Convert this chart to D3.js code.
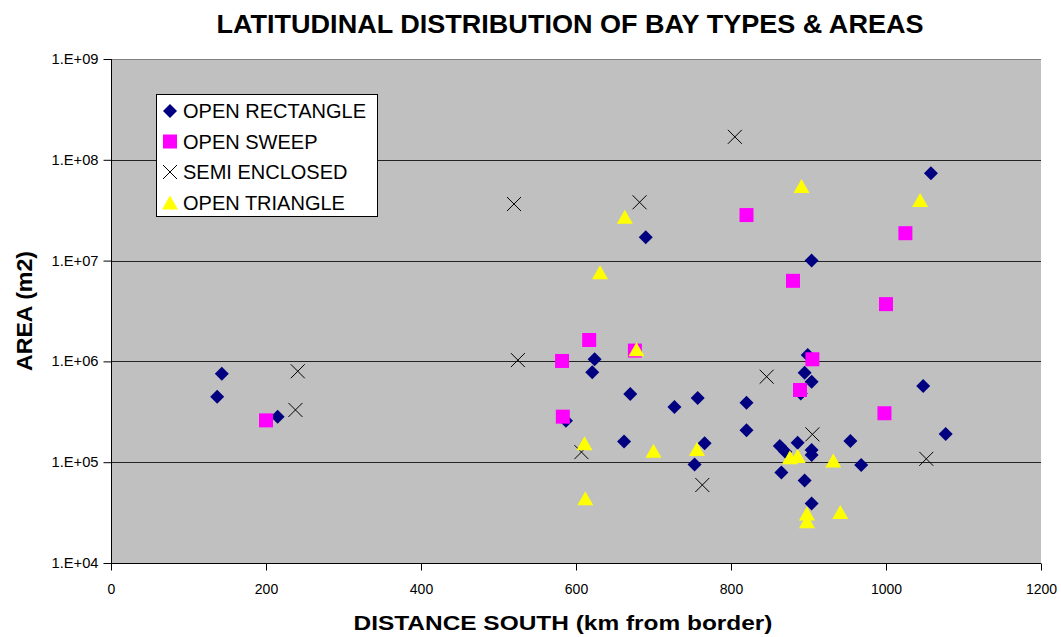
<!DOCTYPE html>
<html>
<head>
<meta charset="utf-8">
<script src="https://cdn.jsdelivr.net/npm/d3@7"></script>
<style>
  html, body { margin: 0; padding: 0; background: #fff; }
  svg { display: block; }
</style>
</head>
<body>
<svg id="chart" width="1061" height="637"></svg>
<script>
// ---- DATA ----
const seriesNames = ["OPEN RECTANGLE", "OPEN SWEEP", "SEMI ENCLOSED", "OPEN TRIANGLE"];

const rectDist = [137, 143, 215, 587, 621, 624, 662, 670, 690, 727, 753, 757, 766, 820, 820, 863, 865, 870, 886, 890, 895, 895, 899, 904, 904, 904, 904, 904, 954, 968, 1048, 1058, 1077];
const rectArea = [4.47e5, 7.55e5, 2.83e5, 2.58e5, 7.8e5, 1.05e6, 1.6e5, 4.75e5, 1.7e7, 3.53e5, 9.5e4, 4.33e5, 1.54e5, 3.89e5, 2.08e5, 1.45e5, 7.9e4, 1.27e5, 1.56e5, 4.8e5, 7.7e5, 6.6e4, 1.16e6, 6.3e5, 1.32e5, 1.18e5, 3.9e4, 1.0e7, 1.62e5, 9.4e4, 5.7e5, 7.35e7, 1.9e5];

const sweepDist = [200, 582, 583, 617, 676, 820, 880, 889, 905, 998, 1000, 1025];
const sweepArea = [2.6e5, 1.01e6, 2.83e5, 1.63e6, 1.28e6, 2.83e7, 6.3e6, 5.2e5, 1.05e6, 3.06e5, 3.7e6, 1.87e7];

const semiDist = [238, 241, 520, 525, 607, 682, 763, 805, 846, 905, 1052];
const semiArea = [3.3e5, 7.98e5, 3.64e7, 1.03e6, 1.26e5, 3.79e7, 5.94e4, 1.69e8, 7.05e5, 1.89e5, 1.08e5];

const triDist = [611, 612, 631, 663, 678, 700, 756, 876, 886, 891, 898, 898, 932, 941, 1044];
const triArea = [1.54e5, 4.4e4, 7.66e6, 2.73e7, 1.32e6, 1.3e5, 1.35e5, 1.12e5, 1.15e5, 5.5e7, 3.1e4, 2.6e4, 1.04e5, 3.2e4, 3.99e7];

const xTicks = [0, 200, 400, 600, 800, 1000, 1200];
const yTicks = [1e4, 1e5, 1e6, 1e7, 1e8, 1e9];
const yTickLabels = ["1.E+04", "1.E+05", "1.E+06", "1.E+07", "1.E+08", "1.E+09"];

// ---- LAYOUT ----
const svg = d3.select("#chart");
const pLeft = 111, pRight = 1041, pTop = 59, pBottom = 563;
const FONT = "Liberation Sans, Arial, sans-serif";

const x = d3.scaleLinear().domain([0, 1200]).range([pLeft, pRight]);
const y = d3.scaleLog().domain([1e4, 1e9]).range([pBottom, pTop]);

// plot background
svg.append("rect").attr("x", pLeft).attr("y", pTop)
  .attr("width", pRight - pLeft).attr("height", pBottom - pTop)
  .attr("fill", "#c0c0c0");

// gridlines
svg.append("g").selectAll("line").data(yTicks.slice(1)).join("line")
  .attr("x1", pLeft).attr("x2", pRight)
  .attr("y1", d => Math.round(y(d)) + 0.5).attr("y2", d => Math.round(y(d)) + 0.5)
  .attr("stroke", d => d === 1e9 ? "#808080" : "#222").attr("stroke-width", 1);

// axes
const xAxis = d3.axisBottom(x).tickValues(xTicks).tickSize(7).tickPadding(14).tickFormat(d3.format("d"));
const gx = svg.append("g").attr("transform", `translate(0,${pBottom + 0.5})`).call(xAxis);
gx.select(".domain").attr("stroke", "#000").attr("d", `M${pLeft},0H${pRight}`);
gx.selectAll(".tick line").attr("stroke", "#000");
gx.selectAll(".tick text").attr("font-family", FONT).attr("font-size", 14).attr("fill", "#000");

const yAxis = d3.axisLeft(y).tickValues(yTicks).tickSize(8).tickPadding(5)
  .tickFormat((d, i) => yTickLabels[i]);
const gy = svg.append("g").attr("transform", `translate(${pLeft + 0.5},0)`).call(yAxis);
gy.select(".domain").attr("stroke", "#000").attr("d", `M0,${pTop}V${pBottom}`);
gy.selectAll(".tick line").attr("stroke", "#000");
gy.selectAll(".tick text").attr("font-family", FONT).attr("font-size", 14).attr("fill", "#000")
  .attr("textLength", 47).attr("lengthAdjust", "spacingAndGlyphs");

// ---- MARKERS ----
const diamond = s => `M0,${-s}L${s},0L0,${s}L${-s},0Z`;
const square = s => `M${-s},${-s}H${s}V${s}H${-s}Z`;
const cross = s => `M${-s},${-s}L${s},${s}M${-s},${s}L${s},${-s}`;
const triangle = s => `M0,${-s}L${s + 1},${s}L${-s - 1},${s}Z`;

function zipped(xs, ys) { return xs.map((d, i) => ({ x: d, y: ys[i] })); }

const plot = svg.append("g");
plot.append("g").selectAll("path").data(zipped(rectDist, rectArea)).join("path")
  .attr("transform", d => `translate(${x(d.x)},${y(d.y)})`)
  .attr("d", diamond(7)).attr("fill", "#000080");
plot.append("g").selectAll("path").data(zipped(sweepDist, sweepArea)).join("path")
  .attr("transform", d => `translate(${x(d.x)},${y(d.y)})`)
  .attr("d", square(7)).attr("fill", "#ff00ff");
plot.append("g").selectAll("path").data(zipped(semiDist, semiArea)).join("path")
  .attr("transform", d => `translate(${x(d.x)},${y(d.y)})`)
  .attr("d", cross(7)).attr("fill", "none").attr("stroke", "#000").attr("stroke-width", 1);
plot.append("g").selectAll("path").data(zipped(triDist, triArea)).join("path")
  .attr("transform", d => `translate(${x(d.x)},${y(d.y)})`)
  .attr("d", triangle(7)).attr("fill", "#ffff00");

// ---- LEGEND ----
const lg = svg.append("g");
lg.append("rect").attr("x", 156.5).attr("y", 94.5).attr("width", 221).attr("height", 122)
  .attr("fill", "#fff").attr("stroke", "#000").attr("stroke-width", 1);
const markers = [
  { d: diamond(7), fill: "#000080", stroke: "none" },
  { d: square(7), fill: "#ff00ff", stroke: "none" },
  { d: cross(7), fill: "none", stroke: "#000" },
  { d: triangle(7), fill: "#ffff00", stroke: "none" }
];
seriesNames.forEach((name, i) => {
  const cy = 111 + i * 30.5;
  lg.append("path").attr("transform", `translate(170,${cy})`)
    .attr("d", markers[i].d).attr("fill", markers[i].fill).attr("stroke", markers[i].stroke);
  lg.append("text").attr("x", 183).attr("y", cy + 7).text(name)
    .attr("font-family", FONT).attr("font-size", 20).attr("fill", "#000");
});

// ---- TITLES ----
svg.append("text").attr("x", 570).attr("y", 33).attr("text-anchor", "middle")
  .attr("font-family", FONT).attr("font-weight", "bold").attr("font-size", 25)
  .attr("textLength", 707).attr("lengthAdjust", "spacingAndGlyphs")
  .text("LATITUDINAL DISTRIBUTION OF BAY TYPES & AREAS");

svg.append("text").attr("x", 563).attr("y", 630).attr("text-anchor", "middle")
  .attr("font-family", FONT).attr("font-weight", "bold").attr("font-size", 21)
  .attr("textLength", 419).attr("lengthAdjust", "spacingAndGlyphs")
  .text("DISTANCE SOUTH (km from border)");

svg.append("text").attr("transform", `translate(32,${(pTop + pBottom) / 2}) rotate(-90)`)
  .attr("text-anchor", "middle")
  .attr("font-family", FONT).attr("font-weight", "bold").attr("font-size", 22)
  .attr("textLength", 120).attr("lengthAdjust", "spacingAndGlyphs")
  .text("AREA (m2)");
</script>
</body>
</html>
